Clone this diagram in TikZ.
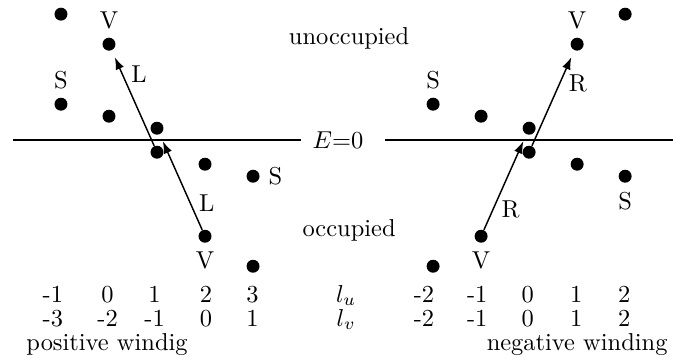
\documentclass[tikz,border=0pt]{standalone}
\usepackage{tikz}
\usetikzlibrary{arrows.meta, positioning}

\begin{document}
\begin{tikzpicture}[x=0.69cm, y=0.69cm,
    dot/.style={circle, fill=black, inner sep=0pt, minimum size=5.3pt},
    hop/.style={-{Latex[length=5pt, width=3.6pt]}, line width=0.6pt, shorten >=3pt},
    zeroline/.style={line width=0.8pt}]
\useasboundingbox (-3.27,-4.52) rectangle (11.08,2.92);

% Fermi level
\draw[zeroline] (-3,0) -- (3,0);
\draw[zeroline] (4.75,0) -- (10.75,0);
\node (ezero) at (3.77,0) {$E{=}0$};
\node[anchor=base] (unocc) at (4,2) {unoccupied};
\node[anchor=base] (occ) at (4,-2) {occupied};

% positive winding
\node[dot] (p1) at (-2,2.625) {};
\node[dot] (p2) at (-2,0.75) {};
\node[dot] (p3) at (-1,2) {};
\node[dot] (p4) at (-1,0.5) {};
\node[dot] (p5) at (0,0.25) {};
\node[dot] (p6) at (0,-0.25) {};
\node[dot] (p7) at (1,-0.5) {};
\node[dot] (p8) at (1,-2) {};
\node[dot] (p9) at (2,-0.75) {};
\node[dot] (p10) at (2,-2.625) {};
\node[above=0pt of p2] (ps) {S};
\node[above=0pt of p3] (pv) {V};
\node[right=0pt of p9] (ps2) {S};
\node[below=0pt of p8] (pv2) {V};
\draw[hop] (p6) -- (p3) node[pos=0.75, right] (pl1) {L};
\draw[hop] (p8) -- (p5) node[pos=0.28, right] (pl2) {L};

% negative winding
\node[dot] (n1) at (5.75,0.75) {};
\node[dot] (n2) at (5.75,-2.625) {};
\node[dot] (n3) at (6.75,0.5) {};
\node[dot] (n4) at (6.75,-2) {};
\node[dot] (n5) at (7.75,0.25) {};
\node[dot] (n6) at (7.75,-0.25) {};
\node[dot] (n7) at (8.75,2) {};
\node[dot] (n8) at (8.75,-0.5) {};
\node[dot] (n9) at (9.75,2.625) {};
\node[dot] (n10) at (9.75,-0.75) {};
\node[above=0pt of n1] (ns) {S};
\node[above=0pt of n7] (nv) {V};
\node[below=0pt of n10] (ns2) {S};
\node[below=0pt of n4] (nv2) {V};
\draw[hop] (n4) -- (n5) node[pos=0.21, right] (nr1) {R};
\draw[hop] (n6) -- (n7) node[pos=0.66, right] (nr2) {R};

% angular momenta
\foreach \x/\u/\v [count=\i] in {-2.17/-1/-3, -1.03/0/-2, -0.05/1/-1, 1.02/2/0, 1.99/3/1} {
  \node[anchor=base] (pu\i) at (\x,-3.375) {\u};
  \node[anchor=base] (pl\i) at (\x,-3.875) {\v};
}
\foreach \x/\u [count=\i] in {5.56/-2, 6.67/-1, 7.72/0, 8.73/1, 9.73/2} {
  \node[anchor=base] (nu\i) at (\x,-3.375) {\u};
  \node[anchor=base] (nl\i) at (\x,-3.875) {\u};
}
\node[anchor=base] (lu) at (3.94,-3.375) {$l_u$};
\node[anchor=base] (lv) at (3.94,-3.875) {$l_v$};
\node[anchor=base] (poswind) at (-1.04,-4.375) {positive windig};
\node[anchor=base] (negwind) at (8.75,-4.375) {negative winding};
\end{tikzpicture}
\end{document}
